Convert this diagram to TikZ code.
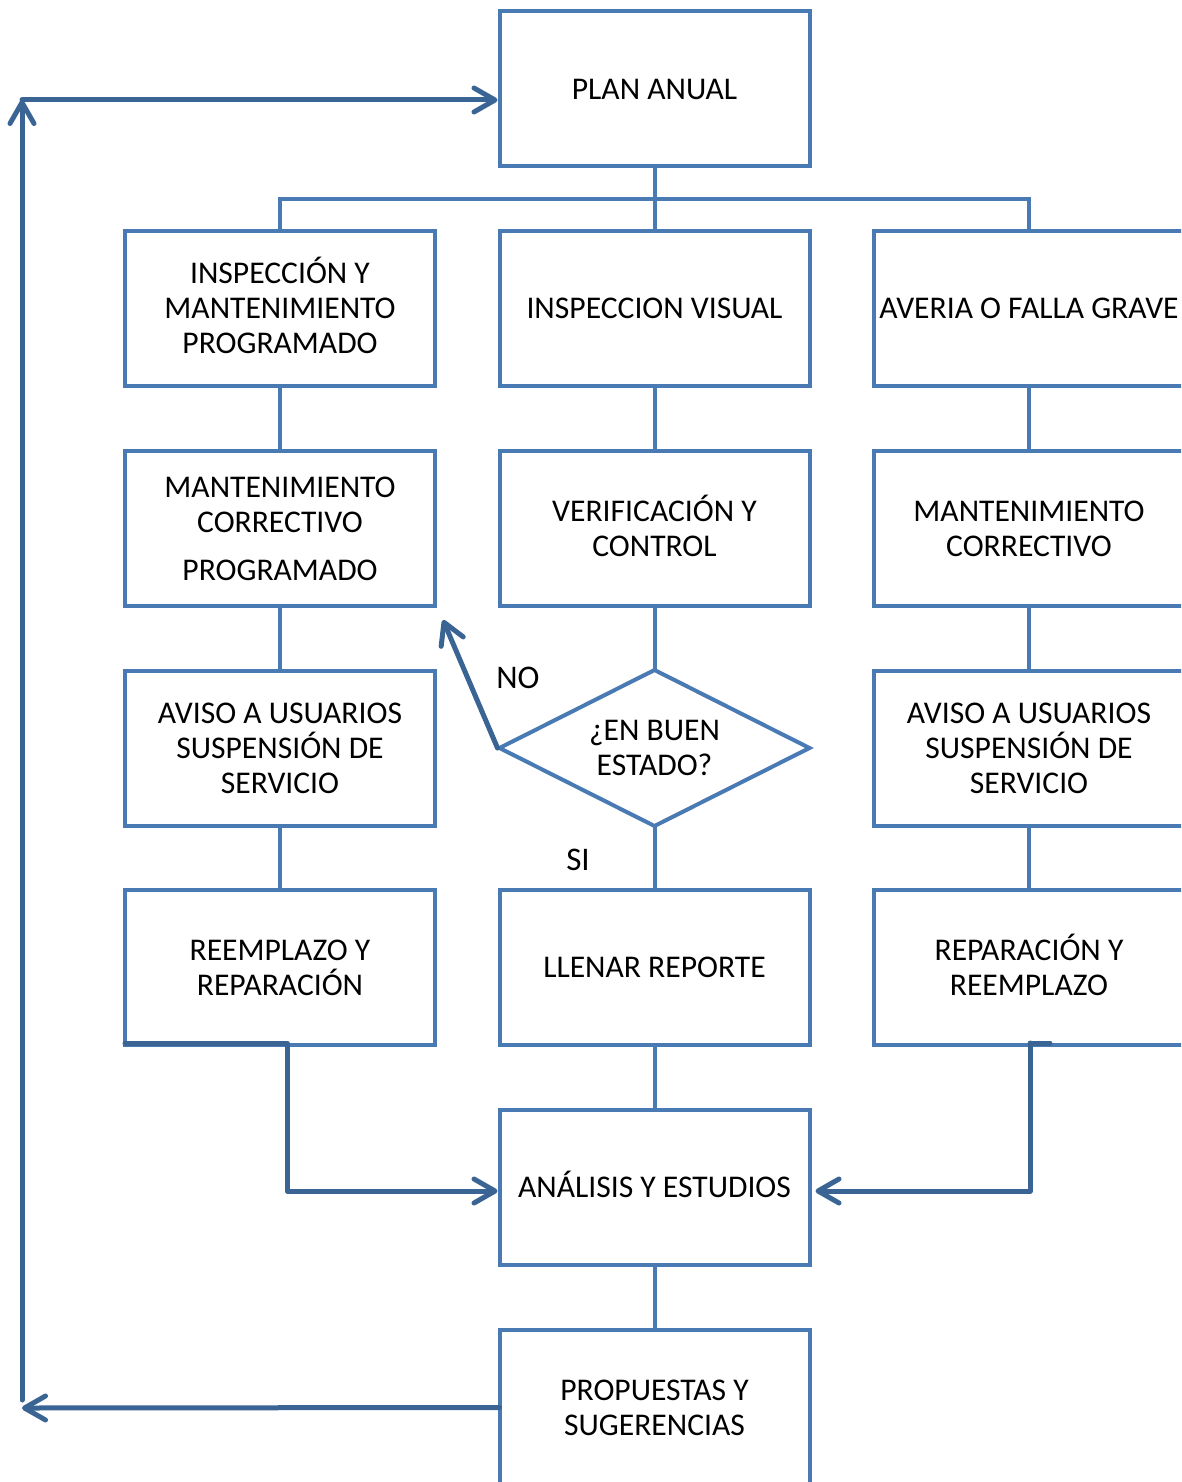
\documentclass[tikz,border=0pt]{standalone}
\usepackage{fontspec}
\setmainfont{Carlito}
\usetikzlibrary{arrows.meta,shapes.geometric}
\definecolor{boxblue}{HTML}{4A7AB4}
\definecolor{arrblue}{HTML}{3A6494}
\newcommand\capline[1]{\raisebox{0pt}[\fontcharht\font`E][0pt]{#1}}
\begin{document}
\begin{tikzpicture}[x=1pt,y=-1pt,
  txt/.style={font=\fontsize{31.6}{35}\selectfont},
  fbox/.style={draw=boxblue,line width=4pt,minimum width=310pt,minimum height=155pt,
    inner sep=0pt,outer sep=0pt,align=center,txt},
  dbox/.style={draw=boxblue,line width=4pt,shape=diamond,aspect=2,minimum width=310pt,minimum height=156pt,
    inner sep=0pt,outer sep=0pt,align=center,txt},
  conn/.style={draw=boxblue,line width=4pt},
  arr/.style={draw=arrblue,line width=5pt,line cap=round,line join=round,
    -{Straight Barb[length=21pt,width=24pt,line cap=round,line join=round]}},
  arrline/.style={draw=arrblue,line width=5pt,line cap=round,line join=round}]
\useasboundingbox (0,0) rectangle (1181,1482);
\clip (0,0) rectangle (1181,1482);
% nodes
\node[fbox] (plan) at (654.5,89) {PLAN ANUAL};
\node[fbox] (b11) at (280,308.5) {\capline{INSPECCIÓN Y}\\MANTENIMIENTO\\PROGRAMADO};
\node[fbox] (b12) at (654.5,308.5) {INSPECCION VISUAL};
\node[fbox] (b13) at (1029,308.5) {AVERIA O FALLA GRAVE};
\node[fbox] (b21) at (280,528.5) {MANTENIMIENTO\\CORRECTIVO\\[13pt]PROGRAMADO};
\node[fbox] (b22) at (654.5,528.5) {\capline{VERIFICACIÓN Y}\\CONTROL};
\node[fbox] (b23) at (1029,528.5) {MANTENIMIENTO\\CORRECTIVO};
\node[fbox] (b31) at (280,748) {AVISO A USUARIOS\\SUSPENSIÓN DE\\SERVICIO};
\node[dbox] (dia) at (654.5,748) {¿EN BUEN\\ESTADO?};
\node[fbox] (b33) at (1029,748) {AVISO A USUARIOS\\SUSPENSIÓN DE\\SERVICIO};
\node[fbox] (b41) at (280,967.5) {REEMPLAZO Y\\REPARACIÓN};
\node[fbox] (b42) at (654.5,967.5) {LLENAR REPORTE};
\node[fbox] (b43) at (1029,967.5) {\capline{REPARACIÓN Y}\\REEMPLAZO};
\node[fbox] (anal) at (654.5,1187) {\capline{ANÁLISIS Y ESTUDIOS}};
\node[fbox] (prop) at (654.5,1407.5) {PROPUESTAS Y\\SUGERENCIAS};
\node[txt,font=\fontsize{33}{36}\selectfont] (no) at (518,678) {NO};
\node[txt,font=\fontsize{33}{36}\selectfont] (si) at (578,860) {SI};
% tree
\coordinate (j) at (654.5,199);
\draw[conn] (plan.south) -- (j);
\draw[conn] (b11.north) -- (b11.north |- j) -- (b13.north |- j) -- (b13.north);
\draw[conn] (j) -- (b12.north);
% column connectors
\draw[conn] (b11.south) -- (b21.north);
\draw[conn] (b21.south) -- (b31.north);
\draw[conn] (b31.south) -- (b41.north);
\draw[conn] (b12.south) -- (b22.north);
\draw[conn] (b22.south) -- (dia.north);
\draw[conn] (dia.south) -- (b42.north);
\draw[conn] (b42.south) -- (anal.north);
\draw[conn] (anal.south) -- (prop.north);
\draw[conn] (b13.south) -- (b23.north);
\draw[conn] (b23.south) -- (b33.north);
\draw[conn] (b33.south) -- (b43.north);
% NO arrow
\coordinate (notip) at (443,620);
\draw[arr] ([xshift=-2pt]dia.west) -- (notip);
% arrows to analysis
\draw[arr] ([yshift=2pt]b41.south west) -- (287,1043) -- (287,1191) -- ([yshift=-4pt,xshift=-2pt]anal.west);
\draw[arrline] (1050,1043) -- (1030,1043);
\draw[arr] (1030,1043) -- (1030,1191) -- ([yshift=-4pt,xshift=6pt]anal.east);
% feedback loop
\coordinate (fb) at (22,1408);
\coordinate (ft) at (22,100);
\draw[arr] (prop.west) -- (fb);
\draw[arr] (22,1400) -- (ft);
\draw[arr] (ft) -- ([xshift=-2pt]plan.west |- ft);
\end{tikzpicture}
\end{document}
